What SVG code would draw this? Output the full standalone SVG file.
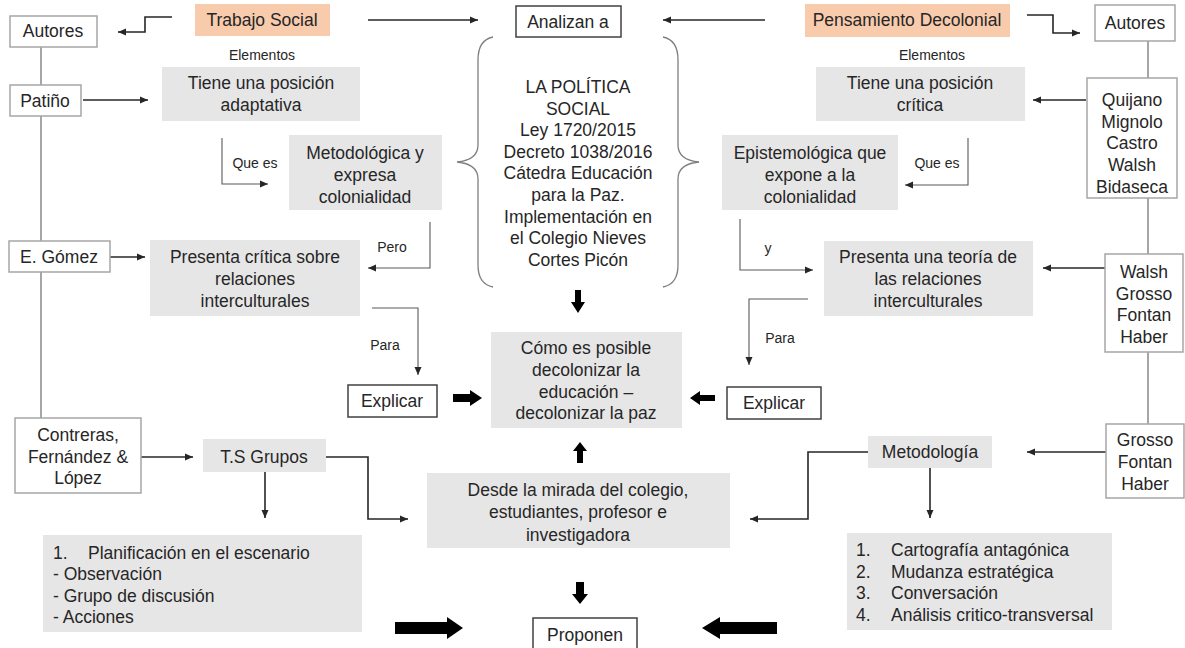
<svg xmlns="http://www.w3.org/2000/svg" width="1185" height="648" viewBox="0 0 1185 648">
<style>
.g{fill:#e7e6e6}
.p{fill:#f8cbad}
.w{fill:#fff;stroke:#a6a6a6;stroke-width:1.5}
.k{fill:#fff;stroke:#404040;stroke-width:1.5}
text{font-family:"Liberation Sans",Arial,sans-serif;font-size:17.5px;fill:#262626;text-anchor:middle}
.s{font-size:14px}
.l{text-anchor:start}
.tree{stroke:#a6a6a6;stroke-width:2;fill:none}
.c{stroke:#262626;stroke-width:1.6;fill:none;marker-end:url(#ah)}
.t{stroke:#595959;stroke-width:1.1;fill:none;marker-end:url(#ah)}
.br{stroke:#7f7f7f;stroke-width:1.3;fill:none}
.bk{fill:#000}
</style>
<defs>
<marker id="ah" markerUnits="userSpaceOnUse" markerWidth="9" markerHeight="8" refX="8" refY="4" orient="auto">
<path d="M0,0.5 L8,4 L0,7.5 z" fill="#262626"/>
</marker>
</defs>

<g id="connectors">
<path class="tree" d="M41,47 V418"/>
<path class="tree" d="M1148,41 V424"/>
<path class="c" d="M172,17 H145 V32 H118"/>
<path class="c" d="M1027,15 H1053 V33 H1080"/>
<path class="c" d="M368,20 H478"/>
<path class="c" d="M765,20 H663"/>
<path class="c" d="M83,100 H148"/>
<path class="c" d="M1086,100 H1033"/>
<path class="t" d="M222,138 V184 H268"/>
<path class="t" d="M968,138 V185 H905"/>
<path class="t" d="M430,222 V268 H368"/>
<path class="t" d="M740,219 V270 H813"/>
<path class="t" d="M372,308 H418 V375"/>
<path class="t" d="M808,299 H749 V365"/>
<path class="c" d="M110,257 H145"/>
<path class="c" d="M1105,268 H1043"/>
<path class="c" d="M141,457 H193"/>
<path class="c" d="M326,457 H368 V519 H408"/>
<path class="c" d="M265,472 V518"/>
<path class="c" d="M1106,452 H1027"/>
<path class="c" d="M868,452 H808 V519 H750"/>
<path class="c" d="M930,468 V518"/>
<path class="br" d="M493,37 Q478,40 478,60 V145 Q478,160 457,162 Q478,164 478,179 V265 Q478,284 493,287"/>
<path class="br" d="M663,37 Q678,40 678,60 V145 Q678,160 699,162 Q678,164 678,179 V265 Q678,284 663,287"/>
<polygon class="bk" points="575,290 581,290 581,302 585,302 578,313 571,302 575,302"/>
<polygon class="bk" points="453,394 470,394 470,390 482,398 470,406 470,402 453,402"/>
<polygon class="bk" points="715,395 700,395 700,391 690,398 700,405 700,401 715,401"/>
<polygon class="bk" points="577,463 583,463 583,451 587,451 580,442 573,451 577,451"/>
<polygon class="bk" points="576,582 584,582 584,594 588,594 580,604 572,594 576,594"/>
<polygon class="bk" points="395,622 447,622 447,617 463,628 447,639 447,634 395,634"/>
<polygon class="bk" points="777,622 720,622 720,617 702,628 720,639 720,634 777,634"/>
</g>

<g id="trabajo-social"><rect class="p" x="195" y="4" width="135" height="32"/><text x="262" y="26">Trabajo Social</text></g>
<g id="pensamiento-decolonial"><rect class="p" x="805" y="4" width="205" height="33"/><text x="907" y="26">Pensamiento Decolonial</text></g>
<g id="analizan"><rect class="k" x="516" y="6" width="105" height="31"/><text x="568" y="28">Analizan a</text></g>
<g id="autores-l"><rect class="w" x="10" y="16" width="87" height="31"/><text x="53" y="37">Autores</text></g>
<g id="autores-r"><rect class="w" x="1095" y="5" width="80" height="36"/><text x="1135" y="29">Autores</text></g>
<g id="elementos-l"><text class="s" x="262" y="60">Elementos</text></g>
<g id="elementos-r"><text class="s" x="932" y="60">Elementos</text></g>
<g id="adaptativa"><rect class="g" x="162" y="67" width="198" height="54"/><text x="261" y="89">Tiene una posición</text><text x="261" y="111">adaptativa</text></g>
<g id="critica"><rect class="g" x="816" y="67" width="209" height="54"/><text x="920" y="89">Tiene una posición</text><text x="920" y="111">crítica</text></g>
<g id="patino"><rect class="w" x="10" y="85" width="71" height="31"/><text x="45" y="107">Patiño</text></g>
<g id="quijano"><rect class="w" x="1087" y="78" width="90" height="120"/><text x="1132" y="106">Quijano</text><text x="1132" y="128">Mignolo</text><text x="1132" y="149">Castro</text><text x="1132" y="171">Walsh</text><text x="1132" y="193">Bidaseca</text></g>
<g id="metodologica"><rect class="g" x="289" y="135" width="153" height="75"/><text x="365" y="159">Metodológica y</text><text x="365" y="181">expresa</text><text x="365" y="203">colonialidad</text></g>
<g id="epistemologica"><rect class="g" x="722" y="135" width="176" height="75"/><text x="810" y="159">Epistemológica que</text><text x="810" y="181">expone a la</text><text x="810" y="203">colonialidad</text></g>
<g id="labels"><text class="s" x="255" y="168">Que es</text><text class="s" x="937" y="168">Que es</text><text class="s" x="392" y="252">Pero</text><text class="s" x="768" y="253">y</text><text class="s" x="385" y="350">Para</text><text class="s" x="780" y="343">Para</text></g>
<g id="politica"><text x="578" y="93">LA POLÍTICA</text><text x="578" y="115">SOCIAL</text><text x="578" y="136">Ley 1720/2015</text><text x="578" y="158">Decreto 1038/2016</text><text x="578" y="179">Cátedra Educación</text><text x="578" y="201">para la Paz.</text><text x="578" y="223">Implementación en</text><text x="578" y="244">el Colegio Nieves</text><text x="578" y="266">Cortes Picón</text></g>
<g id="gomez"><rect class="w" x="9" y="241" width="101" height="31"/><text x="59" y="263">E. Gómez</text></g>
<g id="presenta-critica"><rect class="g" x="150" y="240" width="210" height="76"/><text x="255" y="263">Presenta crítica sobre</text><text x="255" y="285">relaciones</text><text x="255" y="307">interculturales</text></g>
<g id="presenta-teoria"><rect class="g" x="824" y="241" width="209" height="75"/><text x="928" y="263">Presenta una teoría de</text><text x="928" y="285">las relaciones</text><text x="928" y="307">interculturales</text></g>
<g id="walsh"><rect class="w" x="1105" y="254" width="78" height="98"/><text x="1144" y="278">Walsh</text><text x="1144" y="300">Grosso</text><text x="1144" y="321">Fontan</text><text x="1144" y="343">Haber</text></g>
<g id="explicar-l"><rect class="k" x="348" y="385" width="89" height="32"/><text x="392" y="407">Explicar</text></g>
<g id="explicar-r"><rect class="k" x="727" y="387" width="94" height="32"/><text x="774" y="409">Explicar</text></g>
<g id="como"><rect class="g" x="491" y="332" width="191" height="96"/><text x="586" y="354">Cómo es posible</text><text x="586" y="376">decolonizar la</text><text x="586" y="398">educación –</text><text x="586" y="419">decolonizar la paz</text></g>
<g id="contreras"><rect class="w" x="15" y="418" width="126" height="75"/><text x="78" y="441">Contreras,</text><text x="78" y="463">Fernández &amp;</text><text x="78" y="484">López</text></g>
<g id="ts-grupos"><rect class="g" x="203" y="439" width="123" height="33"/><text x="264" y="463">T.S Grupos</text></g>
<g id="metodologia"><rect class="g" x="868" y="436" width="124" height="32"/><text x="930" y="458">Metodología</text></g>
<g id="grosso"><rect class="w" x="1106" y="424" width="78" height="74"/><text x="1145" y="446">Grosso</text><text x="1145" y="468">Fontan</text><text x="1145" y="490">Haber</text></g>
<g id="desde"><rect class="g" x="427" y="473" width="303" height="75"/><text x="578" y="496">Desde la mirada del colegio,</text><text x="578" y="518">estudiantes, profesor e</text><text x="578" y="541">investigadora</text></g>
<g id="planificacion"><rect class="g" x="43" y="535" width="319" height="97"/><text class="l" x="53" y="559">1.</text><text class="l" x="88" y="559">Planificación en el escenario</text><text class="l" x="53" y="580">- Observación</text><text class="l" x="53" y="602">- Grupo de discusión</text><text class="l" x="53" y="623">- Acciones</text></g>
<g id="cartografia"><rect class="g" x="847" y="533" width="265" height="97"/><text class="l" x="856" y="556">1.</text><text class="l" x="891" y="556">Cartografía antagónica</text><text class="l" x="856" y="578">2.</text><text class="l" x="891" y="578">Mudanza estratégica</text><text class="l" x="856" y="599">3.</text><text class="l" x="891" y="599">Conversación</text><text class="l" x="856" y="621">4.</text><text class="l" x="891" y="621">Análisis critico-transversal</text></g>
<g id="proponen"><rect class="k" x="533" y="618" width="104" height="40"/><text x="585" y="641">Proponen</text></g>
</svg>
